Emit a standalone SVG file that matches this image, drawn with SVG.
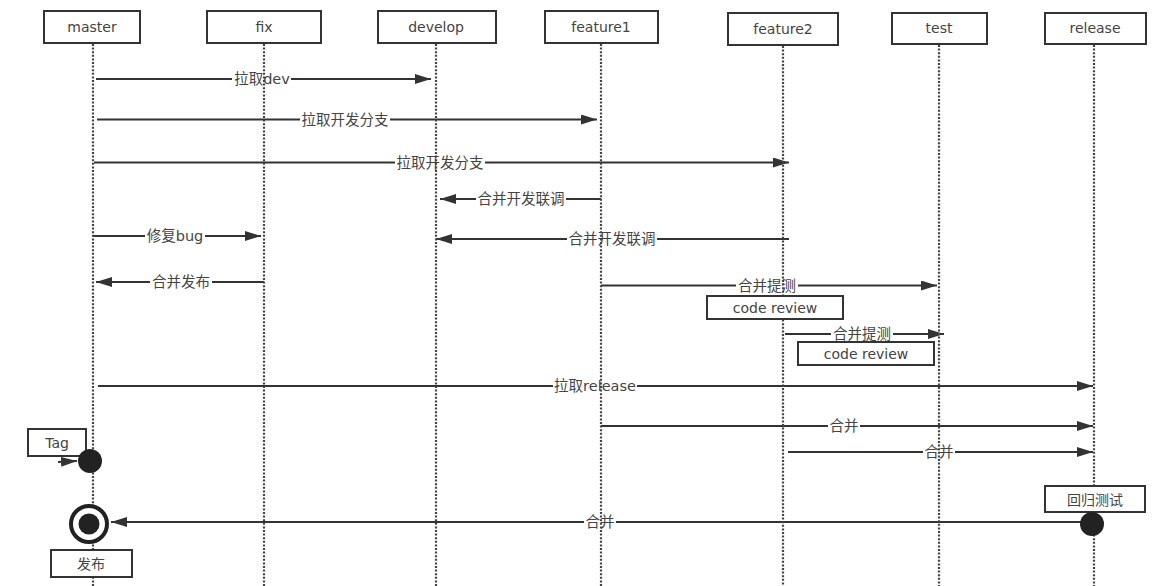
<svg xmlns="http://www.w3.org/2000/svg" width="1169" height="586" viewBox="0 0 1169 586">
<style>
.box{fill:#fff;stroke:#333;stroke-width:2}
.life{stroke:#444;stroke-width:2.2;stroke-dasharray:2 1.6;fill:none}
.hd{font-family:"DejaVu Sans","Noto Sans CJK SC",sans-serif;font-size:14px;fill:#444;text-anchor:middle}
.lb{font-family:"DejaVu Sans","Noto Sans CJK SC",sans-serif;font-size:14.5px;fill:#444;text-anchor:middle}
.nb{font-family:"DejaVu Sans","Noto Sans CJK SC",sans-serif;font-size:14px;fill:#444;text-anchor:middle}
.msg{stroke:#333;stroke-width:2;fill:none;marker-end:url(#ah)}
.gap{fill:#fff}
</style>
<defs>
<marker id="ah" viewBox="0 0 16 10" refX="16" refY="5" markerWidth="16" markerHeight="10" markerUnits="userSpaceOnUse" orient="auto">
<path d="M0,0 L16,5 L0,10 z" fill="#333"/>
</marker>
</defs>
<rect width="1169" height="586" fill="#fff"/>

<g id="connectors">
<line class="msg" x1="96" y1="79" x2="431" y2="79"/>
<rect class="gap" x="232" y="76" width="59" height="6"/>
<text class="lb" x="262" y="84">拉取dev</text>

<line class="msg" x1="97" y1="119.5" x2="597" y2="119.5"/>
<rect class="gap" x="300" y="116" width="90" height="7"/>
<text class="lb" x="345" y="124.5">拉取开发分支</text>

<line class="msg" x1="94" y1="162.5" x2="789" y2="162.5"/>
<rect class="gap" x="395" y="159" width="90" height="7"/>
<text class="lb" x="440" y="167.5">拉取开发分支</text>

<line class="msg" x1="601" y1="199" x2="440" y2="199"/>
<rect class="gap" x="476" y="196" width="90" height="6"/>
<text class="lb" x="521" y="204">合并开发联调</text>

<line class="msg" x1="93" y1="236" x2="261" y2="236"/>
<rect class="gap" x="145" y="233" width="60" height="6"/>
<text class="lb" x="175" y="241">修复bug</text>

<line class="msg" x1="789" y1="239" x2="436" y2="239"/>
<rect class="gap" x="567" y="236" width="90" height="6"/>
<text class="lb" x="612" y="244">合并开发联调</text>

<line class="msg" x1="264" y1="282" x2="96" y2="282"/>
<rect class="gap" x="150" y="279" width="62" height="6"/>
<text class="lb" x="181" y="287">合并发布</text>

<line class="msg" x1="601" y1="285.5" x2="937" y2="285.5"/>
<rect class="gap" x="736" y="282" width="62" height="7"/>
<text class="lb" x="767" y="290.5">合并提测</text>

<line class="msg" x1="785" y1="334" x2="944" y2="334"/>
<rect class="gap" x="831" y="331" width="62" height="6"/>
<text class="lb" x="862" y="339">合并提测</text>

<line class="msg" x1="98" y1="386" x2="1093" y2="386"/>
<rect class="gap" x="553" y="383" width="84" height="6"/>
<text class="lb" x="595" y="391">拉取release</text>

<line class="msg" x1="601" y1="426" x2="1093" y2="426"/>
<rect class="gap" x="828" y="423" width="32" height="6"/>
<text class="lb" x="844" y="431">合并</text>

<line class="msg" x1="788" y1="452" x2="1093" y2="452"/>
<rect class="gap" x="923" y="449" width="32" height="6"/>
<text class="lb" x="939" y="457">合并</text>

<line class="msg" x1="1085" y1="522" x2="111" y2="522"/>
<rect class="gap" x="584" y="519" width="32" height="6"/>
<text class="lb" x="600" y="527">合并</text>

<line class="msg" x1="58" y1="462" x2="77" y2="461"/>
</g>

<g id="master">
<line class="life" x1="93" y1="44" x2="93" y2="586"/>
<rect class="box" x="44" y="11" width="96" height="32"/>
<text class="hd" x="92" y="32">master</text>
</g>
<g id="fix">
<line class="life" x1="264" y1="44" x2="264" y2="586"/>
<rect class="box" x="207" y="11" width="114" height="32"/>
<text class="hd" x="264" y="32">fix</text>
</g>
<g id="develop">
<line class="life" x1="436" y1="44" x2="436" y2="586"/>
<rect class="box" x="378" y="11" width="118" height="32"/>
<text class="hd" x="436" y="32">develop</text>
</g>
<g id="feature1">
<line class="life" x1="601" y1="44" x2="601" y2="586"/>
<rect class="box" x="545" y="11" width="113" height="32"/>
<text class="hd" x="601" y="32">feature1</text>
</g>
<g id="feature2">
<line class="life" x1="783" y1="46" x2="783" y2="586"/>
<rect class="box" x="728" y="13" width="110" height="32"/>
<text class="hd" x="783" y="34">feature2</text>
</g>
<g id="test">
<line class="life" x1="939" y1="45" x2="939" y2="586"/>
<rect class="box" x="892" y="13" width="95" height="31"/>
<text class="hd" x="939" y="33">test</text>
</g>
<g id="release">
<line class="life" x1="1094" y1="45" x2="1094" y2="586"/>
<rect class="box" x="1045" y="13" width="101" height="31"/>
<text class="hd" x="1095" y="33">release</text>
</g>

<g id="code-review-1">
<rect class="box" x="707" y="296" width="136" height="23"/>
<text class="nb" x="775" y="312.5">code review</text>
</g>
<g id="code-review-2">
<rect class="box" x="798" y="342" width="136" height="23"/>
<text class="nb" x="866" y="358.5">code review</text>
</g>

<g id="tag">
<rect class="box" x="28" y="429" width="58" height="27"/>
<text class="nb" x="57" y="447.5">Tag</text>
<circle cx="90" cy="461" r="12" fill="#222"/>
</g>

<g id="publish">
<circle cx="89" cy="524" r="18" fill="#fff" stroke="#222" stroke-width="4"/>
<circle cx="89" cy="524" r="10.5" fill="#222"/>
<rect class="box" x="51" y="550" width="81" height="27"/>
<text class="nb" x="91" y="568.5">发布</text>
</g>

<g id="regression">
<rect class="box" x="1045" y="486" width="100" height="26"/>
<text class="nb" x="1095" y="504.5">回归测试</text>
<circle cx="1092" cy="524" r="12" fill="#222"/>
</g>
</svg>
